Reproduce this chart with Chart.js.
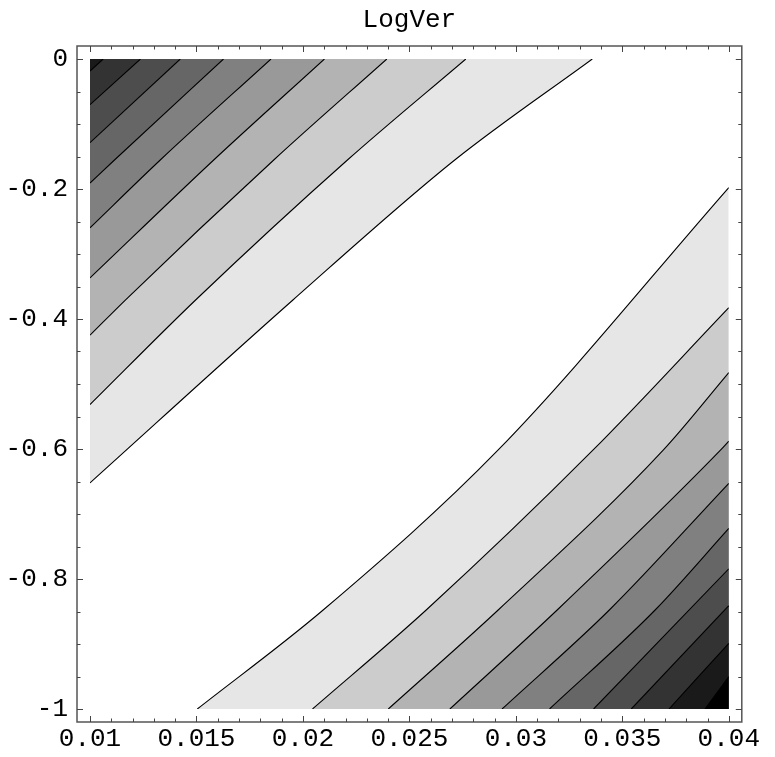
<!DOCTYPE html>
<html>
<head>
<meta charset="utf-8">
<script src="https://cdn.jsdelivr.net/npm/chart.js@4.4.1/dist/chart.umd.min.js"></script>
<style>
html,body{margin:0;padding:0;background:#fff;}
#wrap{width:775px;height:757px;position:relative;}
</style>
</head>
<body>
<div id="wrap"><canvas id="c"></canvas></div>
<script>
// ---- data ----
const titleText = 'LogVer';
const xTickValues = [0.01, 0.015, 0.02, 0.025, 0.03, 0.035, 0.04];
const xTickLabels = ['0.01', '0.015', '0.02', '0.025', '0.03', '0.035', '0.04'];
const yTickValues = [0, -0.2, -0.4, -0.6, -0.8, -1];
const yTickLabels = ['0', '-0.2', '-0.4', '-0.6', '-0.8', '-1'];

// upper-left contour lines (from left edge to top edge), darkest first
const upLine1 = [[0.01, -0.0186], [0.01062, 0]];
const upLine2 = [[0.01, -0.0703], [0.01237, 0]];
const upLine3 = [[0.01, -0.1288], [0.01424, 0]];
const upLine4 = [[0.01, -0.1908], [0.01115, -0.1554], [0.01627, 0]];
const upLine5 = [[0.01, -0.2597], [0.01330, -0.1554], [0.01850, 0]];
const upLine6 = [[0.01, -0.3368], [0.01581, -0.1554], [0.02101, 0]];
const upLine7 = [[0.01, -0.4249], [0.01166, -0.3708], [0.01863, -0.1554], [0.02394, 0]];
const upLine8 = [[0.01, -0.5317], [0.01496, -0.3708], [0.02209, -0.1554], [0.02765, 0]];
const upLine9 = [[0.01, -0.6522], [0.01953, -0.3708], [0.02713, -0.1554], [0.03359, 0]];

// lower-right contour lines (from bottom edge to right edge), lightest first
const lowLine1 = [[0.01504, -1], [0.02095, -0.8477], [0.02917, -0.6015], [0.04, -0.1978]];
const lowLine2 = [[0.02045, -1], [0.02579, -0.8477], [0.03363, -0.6015], [0.04, -0.3826]];
const lowLine3 = [[0.02401, -1], [0.02917, -0.8477], [0.03693, -0.6015], [0.04, -0.4826]];
const lowLine4 = [[0.02690, -1], [0.03194, -0.8477], [0.03962, -0.6015], [0.04, -0.588]];
const lowLine5 = [[0.02935, -1], [0.03439, -0.8477], [0.04, -0.6529]];
const lowLine6 = [[0.03158, -1], [0.03654, -0.8477], [0.04, -0.7222]];
const lowLine7 = [[0.03365, -1], [0.04, -0.7843]];
const lowLine8 = [[0.03542, -1], [0.04, -0.8411]];
const lowLine9 = [[0.03719, -1], [0.04, -0.8989]];
const lowLine10 = [[0.03888, -1], [0.04, -0.9503]];

// ---- styling ----
const upLines = [upLine1, upLine2, upLine3, upLine4, upLine5, upLine6, upLine7, upLine8, upLine9];
const upShades = ['#1a1a1a', '#333333', '#4d4d4d', '#666666', '#808080', '#999999', '#b3b3b3', '#cccccc', '#e6e6e6'];
const lowLines = [lowLine1, lowLine2, lowLine3, lowLine4, lowLine5, lowLine6, lowLine7, lowLine8, lowLine9, lowLine10];
const lowShades = ['#e6e6e6', '#cccccc', '#b3b3b3', '#999999', '#808080', '#666666', '#4d4d4d', '#333333', '#1a1a1a', '#000000'];

const FONT = "'Liberation Mono', 'Courier New', monospace";

const datasets = [];
upLines.forEach((ln, i) => {
  datasets.push({
    data: ln.map(p => ({x: p[0], y: p[1]})),
    fill: 'end',
    backgroundColor: upShades[i],
    borderColor: '#000',
    borderWidth: 1.1,
    pointRadius: 0,
    cubicInterpolationMode: 'monotone',
    order: i + 1
  });
});
lowLines.forEach((ln, i) => {
  datasets.push({
    data: ln.map(p => ({x: p[0], y: p[1]})),
    fill: 'start',
    backgroundColor: lowShades[i],
    borderColor: '#000',
    borderWidth: 1.1,
    pointRadius: 0,
    cubicInterpolationMode: 'monotone',
    order: lowLines.length - i
  });
});

const framePlugin = {
  id: 'frame',
  afterDraw(chart) {
    const {ctx, chartArea: a, scales} = chart;
    const g = 13;
    const L = a.left - g, R = a.right + g, T = a.top - g, B = a.bottom + g;
    ctx.save();
    ctx.strokeStyle = '#555';
    ctx.lineWidth = 1.5;
    ctx.strokeRect(L, T, R - L, B - T);
    ctx.lineWidth = 1;
    ctx.strokeStyle = '#444';
    const seg = (x1, y1, x2, y2) => { ctx.beginPath(); ctx.moveTo(x1, y1); ctx.lineTo(x2, y2); ctx.stroke(); };
    for (let i = 0; i <= 30; i++) {
      const v = xTickValues[0] + i * 0.001;
      const p = Math.round(scales.x.getPixelForValue(v)) + 0.5;
      const len = (i % 5 === 0) ? 6 : 3.5;
      seg(p, T, p, T + len);
      seg(p, B, p, B - len);
    }
    for (let i = 0; i <= 20; i++) {
      const v = -i * 0.05;
      const p = Math.round(scales.y.getPixelForValue(v)) + 0.5;
      const len = (i % 4 === 0) ? 6 : 3.5;
      seg(L, p, L + len, p);
      seg(R, p, R - len, p);
    }
    ctx.restore();
  }
};

new Chart(document.getElementById('c'), {
  type: 'line',
  data: {datasets},
  options: {
    responsive: true,
    maintainAspectRatio: false,
    animation: false,
    layout: {padding: {left: 0, right: 34, top: 0, bottom: 0}},
    plugins: {
      legend: {display: false},
      tooltip: {enabled: false},
      title: {
        display: true,
        text: titleText,
        fullSize: false,
        color: '#000',
        font: {family: FONT, size: 26, weight: 'normal', lineHeight: 1.2},
        padding: {top: 5, bottom: 22.8}
      }
    },
    scales: {
      x: {
        type: 'linear',
        min: 0.01,
        max: 0.04,
        grid: {display: false, drawTicks: false},
        border: {display: false},
        afterBuildTicks: s => { s.ticks = xTickValues.map(v => ({value: v})); },
        afterFit: s => { s.height = 48; },
        ticks: {
          padding: 15,
          color: '#000',
          maxRotation: 0,
          autoSkip: false,
          font: {family: FONT, size: 26},
          callback: (v, i) => xTickLabels[i]
        }
      },
      y: {
        type: 'linear',
        min: -1,
        max: 0,
        grid: {display: false, drawTicks: false},
        border: {display: false},
        afterBuildTicks: s => { s.ticks = yTickValues.map(v => ({value: v})); },
        afterFit: s => { s.width = 90; },
        ticks: {
          padding: 22,
          color: '#000',
          autoSkip: false,
          font: {family: FONT, size: 26},
          callback: (v, i) => yTickLabels[i]
        }
      }
    }
  },
  plugins: [framePlugin]
});
</script>
</body>
</html>
